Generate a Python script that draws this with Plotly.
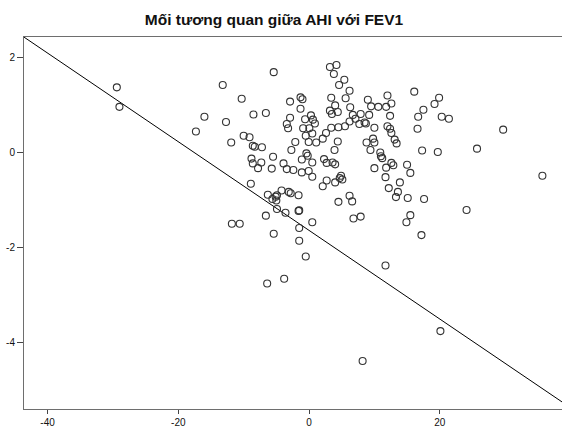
import plotly.graph_objects as go

# Residual AHI (x) vs residual FEV1 (y)
ahi = [
    -29.4, -29.0, -13.2, -5.4, -10.3, -8.5, -6.6, -16.0, -12.7, -17.3,
    -11.9, -10.0, -9.1, -8.6, -8.3, -7.2, -8.8, -8.6, -7.3, -7.8,
    -5.5, -5.7, -8.9, -6.3, -5.6, -5.1, -4.9, -5.0, -4.2, -3.1,
    -2.8, -1.6, -4.9, -3.6, -1.6, -1.5, -6.6, -5.4, -1.5, -1.5,
    -11.8, -10.6, -3.8, -6.4, -1.1, -0.4, -0.2, 0.5, -1.1, -0.05,
    0.5, 2.1, -3.9, -3.4, -2.4, -2.7, 0.5, -0.5, -2.9, -1.3,
    -1.0, -1.3, -2.9, -0.6, 0.3, 0.6, 0.9, -3.4, -3.2, -0.9,
    0.05, -0.5, 0.5, -2.1, -0.05, 1.1, 2.1, 3.2, 4.2, 3.8,
    5.4, 4.6, 6.2, 3.4, 5.6, 4.0, 3.2, 3.5, 4.4, 6.3,
    9.0, 9.5, 10.6, 11.8, 12.0, 12.6, 16.1, 17.5, 16.7, 19.9,
    19.2, 20.3, 21.4, 6.7, 7.9, 7.1, 7.7, 8.5, 8.7, 9.2,
    6.2, 5.5, 4.5, 3.4, 2.6, 10.0, 12.4, 12.0, 12.4, 12.6,
    13.1, 13.4, 16.6, 9.8, 8.8, 10.0, 4.4, 3.9, 9.4, 10.9,
    17.3, 19.7, 2.3, 2.7, 3.6, 4.0, 4.9, 4.7, 5.1, 2.7,
    4.0, 11.0, 11.2, 10.0, 11.8, 12.6, 12.9, 11.7, 15.0, 15.5,
    13.9, 12.2, 13.6, 13.3, 15.1, 17.6, 6.2, 6.6, 4.5, 6.8,
    7.9, 15.5, 14.9, 17.2, 24.1, 11.7, 20.1, 8.2, 25.7, 29.7,
    35.7,
]
fev1 = [
    1.38, 0.97, 1.43, 1.70, 1.14, 0.81, 0.84, 0.76, 0.65, 0.45,
    0.22, 0.36, 0.33, 0.15, 0.13, 0.12, -0.12, -0.22, -0.20, -0.32,
    -0.08, -0.33, -0.65, -0.88, -0.97, -0.92, -0.89, -1.00, -0.79, -0.82,
    -0.85, -0.89, -1.18, -1.26, -1.22, -1.21, -1.32, -1.70, -1.58, -1.85,
    -1.49, -1.49, -2.65, -2.75, -0.14, -0.01, -0.06, -0.20, -0.41, -0.38,
    -0.50, -0.70, -0.22, -0.34, -0.36, 0.06, -1.46, -2.18, 1.08, 1.17,
    1.13, 0.93, 0.74, 0.71, 0.79, 0.70, 0.62, 0.61, 0.52, 0.52,
    0.52, 0.36, 0.41, 0.23, 0.23, 0.22, 0.30, 1.81, 1.85, 1.66,
    1.54, 1.43, 1.31, 1.16, 1.15, 1.00, 0.89, 0.82, 0.86, 0.96,
    1.12, 0.98, 0.97, 0.97, 1.21, 1.04, 1.29, 0.91, 0.76, 1.16,
    1.03, 0.76, 0.72, 0.80, 0.82, 0.72, 0.61, 0.64, 0.62, 0.80,
    0.66, 0.56, 0.54, 0.53, 0.42, 0.53, 0.78, 0.56, 0.51, 0.42,
    0.28, 0.20, 0.51, 0.30, 0.22, 0.22, 0.24, 0.06, 0.06, 0.01,
    0.05, 0.02, -0.13, -0.21, -0.20, -0.24, -0.48, -0.53, -0.56, -0.58,
    -0.62, -0.07, -0.11, -0.32, -0.31, -0.21, -0.26, -0.51, -0.25, -0.42,
    -0.62, -0.74, -0.82, -0.93, -0.95, -0.97, -0.90, -1.02, -1.03, -1.38,
    -1.34, -1.31, -1.46, -1.73, -1.20, -2.37, -3.75, -4.38, 0.09, 0.49,
    -0.48,
]

# Reference (fit) line
fit_intercept = -1.63
fit_slope = -0.0933

x_range = [-43.6, 38.7]
y_range = [-5.39, 2.44]
x_ticks = [-40, -20, 0, 20]
x_ticktext = ["-40", "-20", "0", "20"]
y_ticks = [2, 0, -2, -4]
y_ticktext = ["2", "0", "-2", "-4"]

title_text = "Mối tương quan giữa AHI với FEV1"

line_x = x_range
line_y = [fit_intercept + fit_slope * v for v in line_x]

fig = go.Figure()
fig.add_trace(go.Scatter(
    x=line_x, y=line_y, mode="lines",
    line=dict(color="#000000", width=1),
    hoverinfo="skip", showlegend=False,
))
fig.add_trace(go.Scatter(
    x=ahi, y=fev1, mode="markers",
    marker=dict(symbol="circle-open", size=7, color="#333333",
                line=dict(width=1.1, color="#333333")),
    showlegend=False,
))

fig.update_layout(
    width=562, height=428,
    margin=dict(l=24, r=0, t=37, b=19),
    paper_bgcolor="white", plot_bgcolor="white",
    font=dict(family="Liberation Sans, Arial, sans-serif", size=10, color="#111111"),
    title=dict(text="<b>" + title_text + "</b>", x=274 / 562, xref="container",
               xanchor="center", y=1 - 20 / 428, yref="container", yanchor="middle",
               font=dict(size=15.5, color="#111111")),
    xaxis=dict(range=x_range, tickvals=x_ticks, ticktext=x_ticktext,
               showgrid=False, zeroline=False, showline=True, linecolor="#6e6e6e",
               linewidth=1, mirror=True, ticks="outside", ticklen=4,
               tickcolor="#444444", tickwidth=1, automargin=False),
    yaxis=dict(range=y_range, tickvals=y_ticks, ticktext=y_ticktext,
               showgrid=False, zeroline=False, showline=True, linecolor="#6e6e6e",
               linewidth=1, mirror=False, ticks="outside", ticklen=6,
               tickcolor="#444444", tickwidth=1, automargin=False),
)

fig.write_html(
    "out.html",
    config={"displayModeBar": False},
    post_script="document.body.style.margin='0px';document.body.style.overflow='hidden';",
)
